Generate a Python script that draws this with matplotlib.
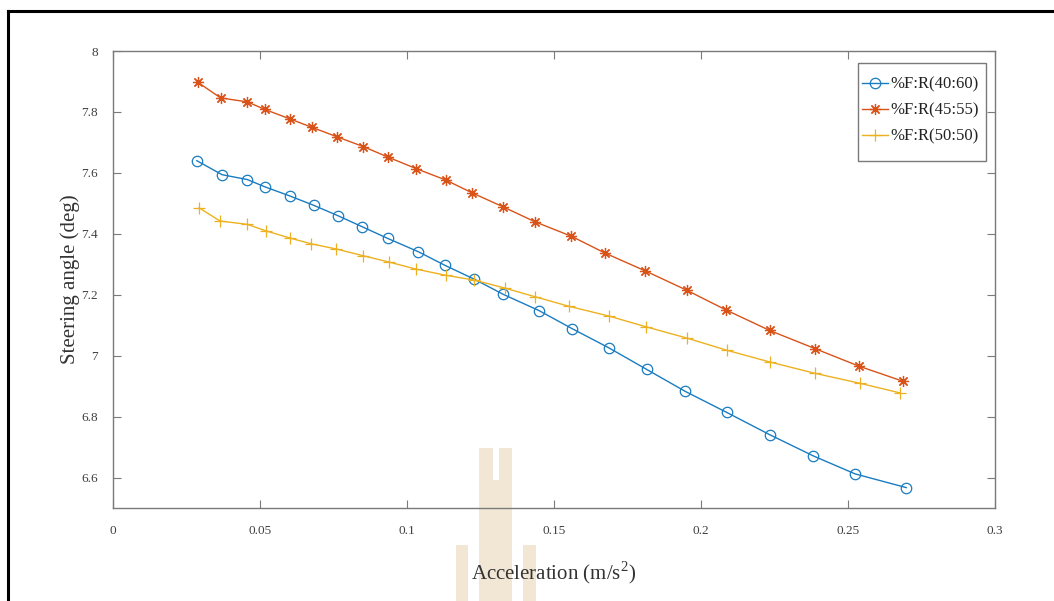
import matplotlib
matplotlib.use("Agg")
from matplotlib import pyplot as plt
from matplotlib.lines import Line2D
from matplotlib.patches import Rectangle

# ---------------------------------------------------------------
# Datos: ángulo de dirección frente a la aceleración lateral
# ---------------------------------------------------------------
x_4060 = [0.0285, 0.0371, 0.0457, 0.0517, 0.0602, 0.0684, 0.0766, 0.0848,
          0.0934, 0.1039, 0.1128, 0.1229, 0.1328, 0.1449, 0.1561, 0.1686,
          0.1815, 0.1946, 0.2087, 0.2235, 0.2382, 0.2524, 0.2698]
y_4060 = [7.640, 7.594, 7.578, 7.554, 7.524, 7.493, 7.459, 7.423,
          7.385, 7.341, 7.297, 7.251, 7.201, 7.148, 7.089, 7.026,
          6.955, 6.883, 6.814, 6.740, 6.671, 6.612, 6.567]

x_4555 = [0.0289, 0.0366, 0.0457, 0.0517, 0.0602, 0.0678, 0.0763, 0.0852,
          0.0937, 0.1031, 0.1133, 0.1220, 0.1328, 0.1434, 0.1559, 0.1675,
          0.1811, 0.1951, 0.2085, 0.2233, 0.2388, 0.2536, 0.2687]
y_4555 = [7.897, 7.846, 7.833, 7.808, 7.777, 7.749, 7.718, 7.686,
          7.651, 7.614, 7.576, 7.535, 7.488, 7.440, 7.392, 7.336,
          7.278, 7.215, 7.150, 7.083, 7.023, 6.966, 6.916]

x_5050 = [0.0293, 0.0364, 0.0457, 0.0519, 0.0602, 0.0675, 0.0760, 0.0851,
          0.0940, 0.1031, 0.1131, 0.1229, 0.1332, 0.1437, 0.1551, 0.1687,
          0.1812, 0.1951, 0.2087, 0.2235, 0.2388, 0.2542, 0.2676]
y_5050 = [7.485, 7.442, 7.431, 7.410, 7.386, 7.367, 7.350, 7.328,
          7.307, 7.284, 7.264, 7.248, 7.222, 7.193, 7.162, 7.130,
          7.095, 7.058, 7.018, 6.979, 6.942, 6.909, 6.878]

labels = ["%F:R(40:60)", "%F:R(45:55)", "%F:R(50:50)"]
xticks = [0, 0.05, 0.1, 0.15, 0.2, 0.25, 0.3]
xticklabels = ["0", "0.05", "0.1", "0.15", "0.2", "0.25", "0.3"]
yticks = [6.6, 6.8, 7.0, 7.2, 7.4, 7.6, 7.8, 8.0]
yticklabels = ["6.6", "6.8", "7", "7.2", "7.4", "7.6", "7.8", "8"]

plt.rcParams["font.family"] = ["Liberation Serif", "DejaVu Serif"]
plt.rcParams["mathtext.fontset"] = "custom"
plt.rcParams["mathtext.rm"] = "Liberation Serif"

W, H = 1054, 601
fig = plt.figure(figsize=(W / 100, H / 100), dpi=100)
fig.patch.set_facecolor("white")

# marca de agua (bloques claros detrás del gráfico), en píxeles
def px_rect(x0, y0, x1, y1):
    return Rectangle((x0 / W, 1 - y1 / H), (x1 - x0) / W, (y1 - y0) / H,
                     transform=fig.transFigure, facecolor="#f1e7d4",
                     edgecolor="none", zorder=0)

for r in [(456, 545, 468, 601), (479, 448, 493, 601), (499, 448, 512, 601),
          (493, 480, 499, 601), (523, 545, 536, 601)]:
    fig.patches.append(px_rect(*r))

# marco de la página (izquierda y arriba)
fig.lines.append(Line2D([7.5 / W, 7.5 / W], [0, 1 - 11 / H], color="black",
                        lw=2.2, transform=fig.transFigure))
fig.lines.append(Line2D([7.5 / W, 1], [1 - 11 / H, 1 - 11 / H], color="black",
                        lw=2.2, transform=fig.transFigure))

ax = fig.add_axes([113 / W, 1 - 508 / H, (995 - 113) / W, (508 - 51) / H])
ax.set_facecolor("none")
ax.set_zorder(1)

ax.plot(x_4060, y_4060, color="#1a7cc0", lw=1.0, marker="o", ms=7.5,
        mfc="none", mew=0.9, label=labels[0])
ax.plot(x_4555, y_4555, color="#D95319", lw=1.0, marker=(8, 2, 0), ms=8,
        mew=0.9, label=labels[1])
ax.plot(x_5050, y_5050, color="#EDB120", lw=1.0, marker="+", ms=8,
        mew=0.9, label=labels[2])

ax.set_xlim(0, 0.3)
ax.set_ylim(6.5, 8)
ax.set_xticks(xticks)
ax.set_xticklabels(xticklabels)
ax.set_yticks(yticks)
ax.set_yticklabels(yticklabels)

grey = "#7a7a7a"
for s in ax.spines.values():
    s.set_color(grey)
    s.set_linewidth(1.0)
ax.tick_params(direction="in", length=6, width=0.8, color=grey,
               labelsize=9.5, labelcolor="#404040", top=True, right=True)
ax.tick_params(axis="y", pad=11)
ax.tick_params(axis="x", pad=12)

ax.set_xlabel(r"Acceleration (m/s$^{\mathrm{2}}$)", fontsize=15,
              color="#333333", labelpad=16)
ax.set_ylabel("Steering angle (deg)", fontsize=15, color="#333333",
              labelpad=1)

# recuadro de la leyenda dibujado aparte
box = Rectangle(((858 - 113) / 882, 1 - (161 - 51) / 457), 128 / 882,
                98 / 457, transform=ax.transAxes, facecolor="white",
                edgecolor=grey, lw=1.0, zorder=5)
ax.add_patch(box)

leg = ax.legend(loc="upper left", bbox_to_anchor=(0.8492, 0.9442),
                borderaxespad=0, borderpad=0, frameon=False, fontsize=12,
                handlelength=1.56, handletextpad=0.15, labelspacing=0.6)
leg.set_zorder(6)
for t in leg.get_texts():
    t.set_color("#222222")

fig.savefig("out.png", dpi=100)
